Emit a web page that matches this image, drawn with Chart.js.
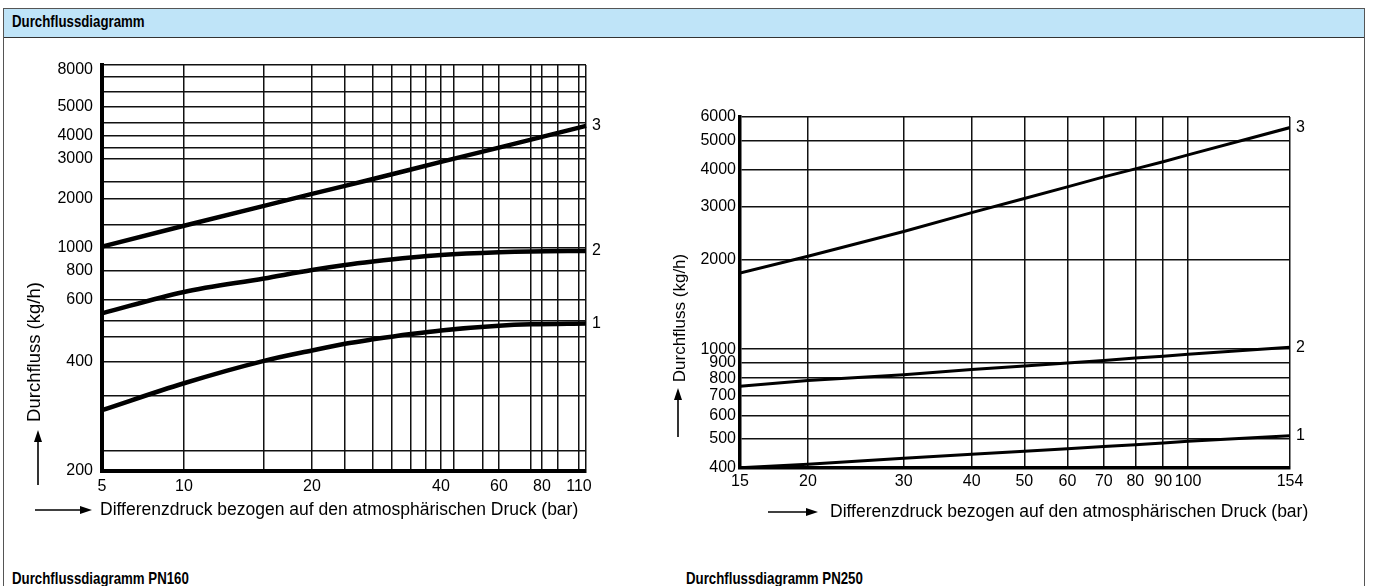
<!DOCTYPE html>
<html>
<head>
<meta charset="utf-8">
<script src="https://cdn.jsdelivr.net/npm/chart.js@4.4.1/dist/chart.umd.min.js"></script>
<style>
html, body { margin: 0; padding: 0; background: #fff; }
body { width: 1373px; height: 586px; overflow: hidden; position: relative; font-family: 'Liberation Sans', Arial, sans-serif; }
.frame { position: absolute; left: 3px; top: 8px; width: 1360px; height: 620px; border: 1px solid #555; }
.head { position: absolute; left: 4px; top: 9px; width: 1360px; height: 28px; background: #bfe4f8; border-bottom: 1px solid #333; }
.cap { position: absolute; font-weight: bold; font-size: 17px; line-height: 18px; transform: scaleX(0.78); transform-origin: left center; white-space: nowrap; color: #000; }
.box { position: absolute; top: 40px; height: 510px; }
</style>
</head>
<body>
<div class="frame"></div>
<div class="head"></div>
<div class="cap" style="left:12px;top:13px;">Durchflussdiagramm</div>
<div class="box" style="left:0;width:660px;"><canvas id="pn160"></canvas></div>
<div class="box" style="left:660px;width:700px;"><canvas id="pn250"></canvas></div>
<div class="cap" style="left:12px;top:570px;">Durchflussdiagramm PN160</div>
<div class="cap" style="left:686px;top:570px;">Durchflussdiagramm PN250</div>

<script>
// PN160: Differenzdruck (bar) und Durchfluss (kg/h) der Kurven 1, 2, 3
const pn160X = [5, 10, 15.4, 20, 23.9, 27.8, 34, 40, 60, 74, 117];
const pn160Curve1 = [295, 350, 403, 431, 450, 463, 480, 492, 508, 513, 516];
const pn160Curve2 = [551, 650, 743, 808, 848, 877, 912, 934, 959, 967, 971];
const pn160Curve3 = [1020, 1371, 1816, 2107, 2288, 2454, 2700, 2914, 3464, 3823, 4322];

// PN250
const pn250X = [15, 20, 30, 40, 50, 60, 70, 80, 90, 100, 154];
const pn250Curve1 = [401, 412, 431, 445, 455, 464, 472, 479, 485, 492, 513];
const pn250Curve2 = [752, 785, 822, 855, 878, 900, 917, 935, 948, 962, 1015];
const pn250Curve3 = [1800, 2050, 2480, 2870, 3200, 3500, 3780, 4020, 4250, 4480, 5530];

// tick labels
const pn160XLabels = [5, 10, 20, 40, 60, 80, 110];
const pn160YLabels = [200, 400, 600, 800, 1000, 2000, 3000, 4000, 5000, 8000];
const pn250XTicks = [15, 20, 30, 40, 50, 60, 70, 80, 90, 100, 154];
const pn250YTicks = [400, 500, 600, 700, 800, 900, 1000, 2000, 3000, 4000, 5000, 6000];

// grid of the scanned PN160 paper (not an even log grid): grid values and where they sit (0..1)
const pn160XGrid = [5, 10, 15.4, 20, 23.9, 27.8, 30.7, 34, 36.9, 40, 43.8, 53.6, 60, 74, 80, 91.6, 110, 117];
const pn160XStops = [0, .1694, .3347, .4339, .5021, .5599, .5992, .6384, .6694, .7004, .7273, .7872, .8202, .8864, .9091, .9421, .9855, 1];
const pn160YGrid = [200, 227, 323, 400, 470, 525, 600, 800, 1000, 1385, 2000, 2380, 3000, 3450, 4000, 4420, 5000, 6000, 7000, 8000, 9000];
const pn160YStops = [0, .0493, .1847, .2685, .3300, .3695, .4212, .4926, .5493, .6059, .6700, .7118, .7685, .7956, .8251, .8571, .8966, .9335, .9704, .9877, 1];
const pn160NoLine = [8000];

const warps = {
    pn160x: { values: pn160XGrid, stops: pn160XStops },
    pn160y: { values: pn160YGrid, stops: pn160YStops }
};

// log scale that follows the hand drawn grid piece by piece
class WarpLogScale extends Chart.LogarithmicScale {
    buildTicks() {
        const w = warps[this.options.warpKey];
        this.min = w.values[0];
        this.max = w.values[w.values.length - 1];
        return w.values.map(v => ({ value: v }));
    }
    toDecimal(v) {
        const w = warps[this.options.warpKey];
        const vals = w.values, st = w.stops;
        if (v <= vals[0]) return st[0];
        for (let i = 1; i < vals.length; i++) {
            if (v <= vals[i]) {
                const t = Math.log(v / vals[i - 1]) / Math.log(vals[i] / vals[i - 1]);
                return st[i - 1] + t * (st[i] - st[i - 1]);
            }
        }
        return st[st.length - 1];
    }
    getPixelForValue(v) {
        if (v === null || v === undefined || isNaN(v)) return NaN;
        return this.getPixelForDecimal(this.toDecimal(v));
    }
    getValueForPixel(p) {
        const w = warps[this.options.warpKey];
        const d = this.getDecimalForPixel(p);
        const vals = w.values, st = w.stops;
        for (let i = 1; i < vals.length; i++) {
            if (d <= st[i]) {
                const t = (d - st[i - 1]) / (st[i] - st[i - 1]);
                return vals[i - 1] * Math.pow(vals[i] / vals[i - 1], t);
            }
        }
        return vals[vals.length - 1];
    }
}
WarpLogScale.id = 'warplog';
WarpLogScale.defaults = {};
Chart.register(WarpLogScale);

function drawArrow(ctx, x1, y1, x2, y2) {
    const a = Math.atan2(y2 - y1, x2 - x1);
    const len = 12, half = 4;
    ctx.lineWidth = 1.6;
    ctx.beginPath();
    ctx.moveTo(x1, y1);
    ctx.lineTo(x2 - len * Math.cos(a), y2 - len * Math.sin(a));
    ctx.stroke();
    ctx.beginPath();
    ctx.moveTo(x2, y2);
    ctx.lineTo(x2 - len * Math.cos(a) - half * Math.sin(a), y2 - len * Math.sin(a) + half * Math.cos(a));
    ctx.lineTo(x2 - len * Math.cos(a) + half * Math.sin(a), y2 - len * Math.sin(a) - half * Math.cos(a));
    ctx.closePath();
    ctx.fill();
}

// axis titles with arrows and the curve numbers at the line ends
const annot = {
    id: 'annot',
    afterDraw(chart, args, o) {
        const ctx = chart.ctx, ca = chart.chartArea;
        ctx.save();
        ctx.fillStyle = '#000';
        ctx.strokeStyle = '#000';
        ctx.font = "16px 'Liberation Sans', Arial, sans-serif";
        ctx.textAlign = 'left';
        ctx.textBaseline = 'middle';
        chart.data.datasets.forEach((ds, i) => {
            const pts = chart.getDatasetMeta(i).data;
            const p = pts[pts.length - 1];
            ctx.fillText(ds.label, p.x + 6, p.y);
        });

        ctx.save();
        ctx.translate(ca.left + o.yDx, ca.bottom - o.yDy);
        ctx.rotate(-Math.PI / 2);
        ctx.font = o.yFont + "px 'Liberation Sans', Arial, sans-serif";
        ctx.textAlign = 'center';
        ctx.fillText('Durchfluss (kg/h)', 0, 0);
        ctx.restore();
        drawArrow(ctx, ca.left + o.yArrowDx, ca.bottom + o.yArrowTail, ca.left + o.yArrowDx, ca.bottom + o.yArrowHead);

        ctx.font = o.xFont + "px 'Liberation Sans', Arial, sans-serif";
        ctx.textAlign = 'left';
        ctx.fillText('Differenzdruck bezogen auf den atmosphärischen Druck (bar)', ca.left + o.xDx, ca.bottom + o.xDy);
        drawArrow(ctx, ca.left + o.xArrowFrom, ca.bottom + o.xDy, ca.left + o.xArrowTo, ca.bottom + o.xDy);
        ctx.restore();
    }
};

Chart.defaults.font.family = "'Liberation Sans', Arial, sans-serif";
Chart.defaults.color = '#000';

function points(xs, ys) {
    return xs.map((x, i) => ({ x: x, y: ys[i] }));
}

function curve(label, xs, ys, width, smooth) {
    return {
        label: label,
        data: points(xs, ys),
        borderColor: '#000',
        borderWidth: width,
        pointRadius: 0,
        fill: false,
        cubicInterpolationMode: smooth ? 'monotone' : 'default',
        tension: 0
    };
}

new Chart(document.getElementById('pn160'), {
    type: 'line',
    data: {
        datasets: [
            curve('1', pn160X, pn160Curve1, 4.5, true),
            curve('2', pn160X, pn160Curve2, 4.5, true),
            curve('3', pn160X, pn160Curve3, 4.5, false)
        ]
    },
    options: {
        responsive: true,
        maintainAspectRatio: false,
        animation: false,
        events: [],
        layout: { padding: { left: 0, top: 25, right: 74, bottom: 0 } },
        scales: {
            x: {
                type: 'warplog',
                warpKey: 'pn160x',
                position: 'bottom',
                afterFit: s => { s.height = 79; },
                border: { display: true, color: '#000', width: 4 },
                grid: { color: '#111', lineWidth: 1.5, drawTicks: false },
                ticks: {
                    autoSkip: false, maxRotation: 0, padding: 6,
                    font: { size: 16 },
                    callback: v => pn160XLabels.includes(v) ? String(v) : ''
                }
            },
            y: {
                type: 'warplog',
                warpKey: 'pn160y',
                position: 'left',
                afterFit: s => { s.width = 102; },
                border: { display: true, color: '#000', width: 4 },
                grid: {
                    color: c => (c.tick && pn160NoLine.includes(c.tick.value)) ? 'rgba(0,0,0,0)' : '#111',
                    lineWidth: 1.5, drawTicks: false
                },
                ticks: {
                    autoSkip: false, padding: 9,
                    font: { size: 16 },
                    callback: v => pn160YLabels.includes(v) ? String(v) : ''
                }
            }
        },
        plugins: {
            legend: { display: false },
            tooltip: { enabled: false },
            annot: {
                yDx: -67, yDy: 119, yFont: 18.5,
                yArrowDx: -64, yArrowTail: 14, yArrowHead: -41,
                xDx: -2, xDy: 39, xFont: 17.5,
                xArrowFrom: -67, xArrowTo: -10
            }
        }
    },
    plugins: [annot]
});

new Chart(document.getElementById('pn250'), {
    type: 'line',
    data: {
        datasets: [
            curve('1', pn250X, pn250Curve1, 3, false),
            curve('2', pn250X, pn250Curve2, 3, false),
            curve('3', pn250X, pn250Curve3, 3, false)
        ]
    },
    options: {
        responsive: true,
        maintainAspectRatio: false,
        animation: false,
        events: [],
        layout: { padding: { left: 0, top: 77, right: 70, bottom: 0 } },
        scales: {
            x: {
                type: 'logarithmic',
                min: 15, max: 154,
                afterBuildTicks: s => { s.ticks = pn250XTicks.map(v => ({ value: v })); },
                afterFit: s => { s.height = 82; },
                border: { display: true, color: '#000', width: 3.5 },
                grid: { color: '#111', lineWidth: 1.5, drawTicks: false },
                ticks: {
                    autoSkip: false, maxRotation: 0, padding: 4,
                    font: { size: 16 },
                    callback: v => String(v)
                }
            },
            y: {
                type: 'logarithmic',
                min: 400, max: 6000,
                afterBuildTicks: s => { s.ticks = pn250YTicks.map(v => ({ value: v })); },
                afterFit: s => { s.width = 80; },
                border: { display: true, color: '#000', width: 3.5 },
                grid: { color: '#111', lineWidth: 1.5, drawTicks: false },
                ticks: {
                    autoSkip: false, padding: 4,
                    font: { size: 16 },
                    callback: v => String(v)
                }
            }
        },
        plugins: {
            legend: { display: false },
            tooltip: { enabled: false },
            annot: {
                yDx: -60, yDy: 150, yFont: 17,
                yArrowDx: -62, yArrowTail: -31, yArrowHead: -80,
                xDx: 90, xDy: 44, xFont: 17.5,
                xArrowFrom: 28, xArrowTo: 78
            }
        }
    },
    plugins: [annot]
});
</script>
</body>
</html>
